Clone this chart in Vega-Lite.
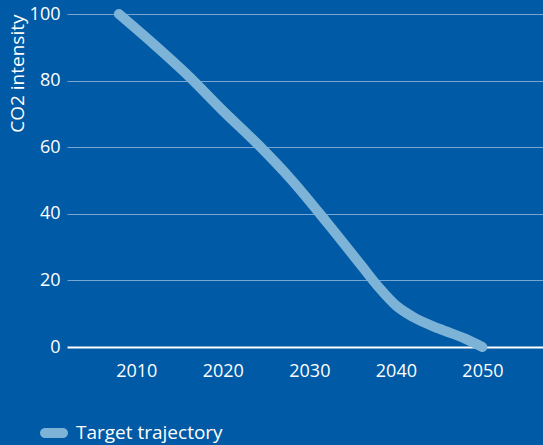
{
  "$schema": "https://vega.github.io/schema/vega-lite/v6.json",
  "width": 476,
  "height": 333,
  "autosize": "none",
  "padding": {"left": 67, "top": 14, "right": 0, "bottom": 98},
  "background": "#005AA5",
  "config": {
    "view": {"stroke": null},
    "font": "Open Sans",
    "axis": {"labelFont": "Open Sans", "titleFont": "Open Sans"},
    "legend": {"labelFont": "Open Sans"}
  },
  "data": {
    "values": [
      {"year": 2008, "value": 100, "series": "Target trajectory"},
      {"year": 2012, "value": 91, "series": "Target trajectory"},
      {"year": 2016, "value": 81.5, "series": "Target trajectory"},
      {"year": 2020, "value": 71, "series": "Target trajectory"},
      {"year": 2024, "value": 61, "series": "Target trajectory"},
      {"year": 2028, "value": 50, "series": "Target trajectory"},
      {"year": 2032, "value": 37.5, "series": "Target trajectory"},
      {"year": 2036, "value": 24.5, "series": "Target trajectory"},
      {"year": 2038, "value": 18, "series": "Target trajectory"},
      {"year": 2040, "value": 12.5, "series": "Target trajectory"},
      {"year": 2042, "value": 9, "series": "Target trajectory"},
      {"year": 2045, "value": 5.5, "series": "Target trajectory"},
      {"year": 2048, "value": 2.5, "series": "Target trajectory"},
      {"year": 2050, "value": 0, "series": "Target trajectory"}
    ]
  },
  "mark": {"type": "line", "strokeWidth": 10, "strokeCap": "round", "strokeJoin": "round", "interpolate": "monotone", "clip": false},
  "encoding": {
    "x": {
      "field": "year", "type": "quantitative",
      "scale": {"domain": [2002, 2057], "nice": false, "zero": false},
      "axis": {
        "values": [2010, 2020, 2030, 2040, 2050], "format": "d",
        "title": null, "grid": false, "domain": false, "ticks": false,
        "labelColor": "white", "labelFontSize": 18, "labelPadding": 15
      }
    },
    "y": {
      "field": "value", "type": "quantitative",
      "scale": {"domain": [0, 100], "nice": false},
      "axis": {
        "values": [0, 20, 40, 60, 80, 100],
        "title": "CO2 intensity", "titleColor": "white", "titleFontSize": 19, "titleFontWeight": "normal",
        "titleAnchor": "end", "titlePadding": 2,
        "domain": false, "ticks": false,
        "labelColor": "white", "labelFontSize": 18, "labelPadding": 7,
        "grid": true,
        "gridColor": {"condition": {"test": "datum.value === 0", "value": "#ffffff"}, "value": "#78A6D2"},
        "gridWidth": {"condition": {"test": "datum.value === 0", "value": 2}, "value": 1}
      }
    },
    "color": {
      "field": "series", "type": "nominal",
      "scale": {"range": ["#7DB3D6"]},
      "legend": {
        "title": null, "orient": "none", "legendX": -27, "legendY": 405,
        "symbolType": "M-0.64,-0.357 L0.64,-0.357 A0.357,0.357 0 0 1 0.64,0.357 L-0.64,0.357 A0.357,0.357 0 0 1 -0.64,-0.357 Z",
        "symbolSize": 784, "symbolStrokeWidth": 0, "symbolFillColor": "#7DB3D6", "labelOffset": 8,
        "labelColor": "white", "labelFontSize": 19,
        "encode": {"symbols": {"update": {"fill": {"value": "#7DB3D6"}, "strokeWidth": {"value": 0}}}}
      }
    }
  }
}
